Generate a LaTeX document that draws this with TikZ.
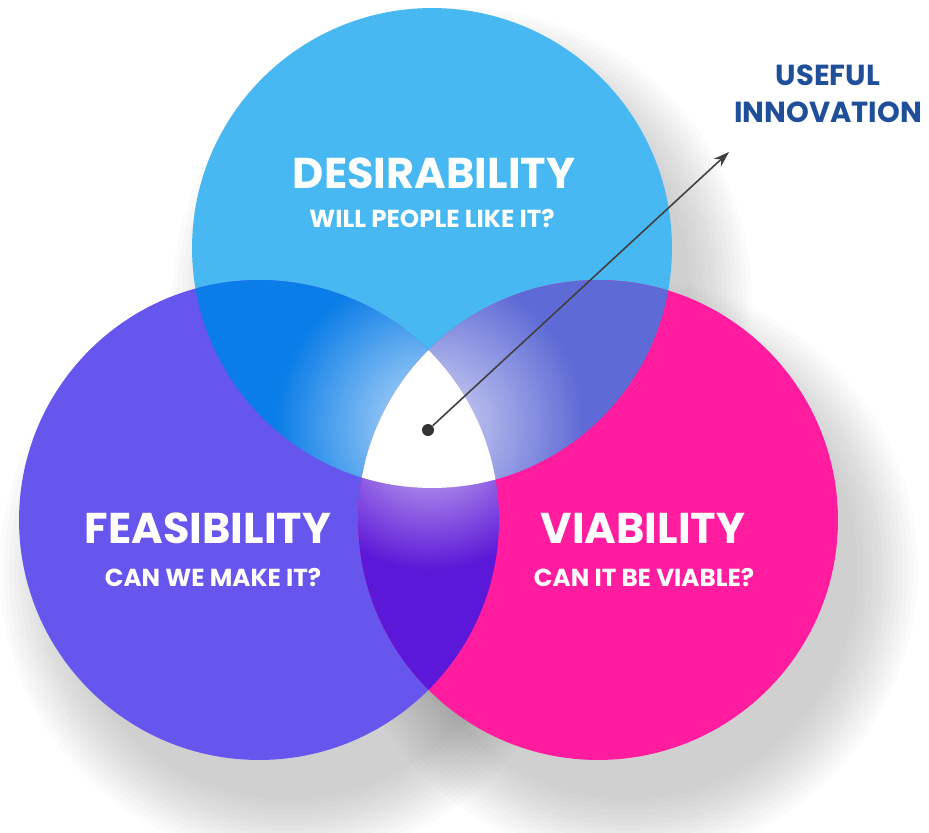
\documentclass[tikz,border=0pt]{standalone}
\usepackage{fontspec}
\newfontfamily\vennFont{Poppins}
\usetikzlibrary{arrows.meta,fadings}

\definecolor{desColor}{HTML}{47B8F2}
\definecolor{feaColor}{HTML}{6656EE}
\definecolor{viaColor}{HTML}{FF1C9E}
\definecolor{desFeaColor}{HTML}{0A7DE8}
\definecolor{desViaColor}{HTML}{5E6AD6}
\definecolor{feaViaColor}{HTML}{5C18D8}
\definecolor{goalColor}{HTML}{1F4E9B}

\tikzfading[name = glowFade, inner color = transparent!0,
            outer color = transparent!100]

\begin{document}
\begin{tikzpicture}
    [x = 0.02cm, y = -0.02cm,
     titleNode/.style = {inner sep = 0pt, text = white,
                         font = \vennFont\bfseries\fontsize{24.5}{28}\selectfont},
     askNode/.style = {inner sep = 0pt, text = white,
                       font = \vennFont\bfseries\fontsize{14}{16}\selectfont},
     goalNode/.style = {inner sep = 0pt, text = goalColor, align = center,
                        font = \vennFont\bfseries\fontsize{16.5}{21}\selectfont},
     dotNode/.style = {circle, fill = black!80, inner sep = 0pt,
                       minimum size = 0.24cm},
     shadowRing/.style = {fill = black, opacity = 0.016},
     glow/.style = {fill = white, path fading = glowFade, fill opacity = 0.75},
     pointer/.style = {-{Stealth[length = 9pt, width = 6pt]},
                       line width = 0.9pt, black!75}]

    \useasboundingbox (0,0) rectangle (929,832);

    \coordinate (D) at (432,248);
    \coordinate (F) at (259,520);
    \coordinate (V) at (598,520);

    \foreach \r in {4.6,4.7,...,5.85} {
      \fill [shadowRing] (462,298) circle (\r cm);
      \fill [shadowRing] (289,570) circle (\r cm);
      \fill [shadowRing] (628,570) circle (\r cm);
    }

    \fill [desColor] (D) circle (4.8cm);
    \fill [feaColor] (F) circle (4.8cm);
    \fill [viaColor] (V) circle (4.8cm);

    \begin{scope}
      \clip (D) circle (4.8cm);
      \fill [desFeaColor] (F) circle (4.8cm);
      \fill [desViaColor] (V) circle (4.8cm);
      \begin{scope}
        \clip (F) circle (4.8cm);
        \fill [glow] (430,425) circle (3.1cm);
      \end{scope}
      \begin{scope}
        \clip (V) circle (4.8cm);
        \fill [glow] (430,425) circle (3.1cm);
      \end{scope}
    \end{scope}
    \begin{scope}
      \clip (F) circle (4.8cm);
      \clip (V) circle (4.8cm);
      \fill [feaViaColor] (V) circle (4.8cm);
      \fill [glow] (430,430) circle (2.8cm);
    \end{scope}

    \begin{scope}
      \clip (D) circle (4.8cm);
      \clip (F) circle (4.8cm);
      \fill [white] (V) circle (4.8cm);
    \end{scope}

    \node at (434,173) [titleNode] (desTitle) {DESIRABILITY};
    \node at (432,218) [askNode]   (desAsk)   {WILL PEOPLE LIKE IT?};
    \node at (208,528) [titleNode] (feaTitle) {FEASIBILITY};
    \node at (213,577) [askNode]   (feaAsk)   {CAN WE MAKE IT?};
    \node at (643,528) [titleNode] (viaTitle) {VIABILITY};
    \node at (644,577) [askNode]   (viaAsk)   {CAN IT BE VIABLE?};

    \node at (828,94) [goalNode] (goal) {USEFUL\\INNOVATION};

    \node at (428,430) [dotNode] (dot) {};
    \coordinate (tip) at (729,152);

    \draw [pointer] (dot) -- (tip);
  \end{tikzpicture}
\end{document}
